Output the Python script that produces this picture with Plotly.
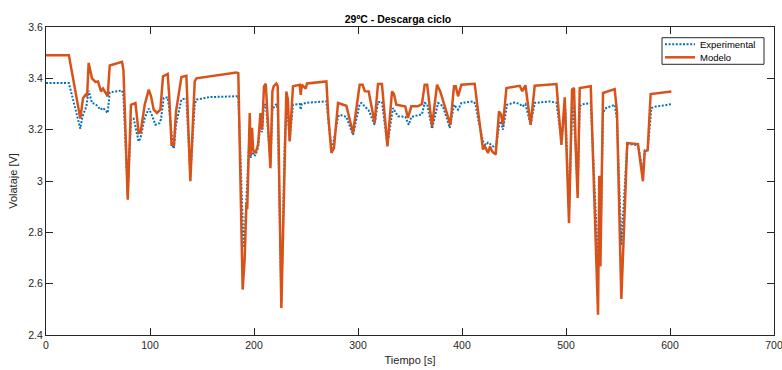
import plotly.graph_objects as go

# Modelo: simulated terminal voltage over the discharge cycle
t_modelo = [
    0, 22, 33, 35.6, 37.9, 39.5, 41, 44.2, 47.5, 50, 52.9, 54.8, 57, 59.3, 61.3, 73.1,
    74.5, 78.6, 81.7, 86, 89.1, 91, 94.9, 98.8, 101, 103.6, 106.7, 110, 112.5, 117,
    118.5, 120.7, 123, 125, 130.2, 135, 138.8, 143, 144.6, 183,
    184.9, 189.1, 191, 192.7, 193.5, 194.9, 195.9, 196.8, 198.1, 199.2, 201.3, 203.9,
    206.2, 207.8, 209.6, 211.3, 212.5, 215.8, 217.7, 219, 221.5, 222.8, 226.3, 229.5,
    231.1, 232.5, 234.3, 237.5, 244, 244.9, 246,
    249.7, 251, 269.6, 271.5, 274.4, 276.9, 280.8, 284, 288.8, 295.2,
    301.6, 304.5, 306.5, 310.3, 316, 319.2, 323, 328.3, 332.7, 334.5, 336.9, 342,
    345.5, 348, 351.3, 357.5, 361.5, 364.1, 366.5, 371.2, 376, 379, 381.7, 385, 388.8,
    392.3, 394, 396.2, 399.4, 412.2, 415.5, 420.2, 421.5, 423, 425, 427, 429, 432.4,
    435.6, 437.5, 439.4, 442.7, 455.5, 458, 461, 466, 469.9, 490.8, 495.6, 498.8,
    502.9, 505.8, 507.7, 509.5, 511.2, 513.2, 523.8, 530.8, 532.0, 533.1, 535.6,
    546.8, 549, 553.2, 554.8, 557, 558.9, 569.2, 574, 575.7, 578.5, 581.4, 601.3,
]
v_modelo = [
    3.49, 3.49, 3.243, 3.323, 3.336, 3.33, 3.46, 3.40, 3.386, 3.388, 3.349, 3.36, 3.345,
    3.33, 3.45, 3.464,
    3.43, 2.927, 3.297, 3.304, 3.187, 3.19, 3.297, 3.356, 3.33, 3.278, 3.265, 3.278,
    3.408, 3.417,
    3.33, 3.141, 3.141, 3.27, 3.405, 3.41, 2.999, 3.388, 3.40, 3.423,
    3.42, 2.577, 2.694, 2.914, 2.89, 3.13, 3.265, 3.10, 3.207, 3.12, 3.109, 3.141,
    3.265, 3.20, 3.369, 3.379, 3.30, 3.05, 3.349, 3.37, 3.38, 3.37, 2.505, 3.135,
    3.349, 3.32, 3.154, 3.369, 3.375, 3.336, 3.375,
    3.36, 3.38, 3.388, 3.25, 3.109, 3.129, 3.304, 3.30, 3.293, 3.187,
    3.375, 3.375, 3.35, 3.349, 3.226, 3.378, 3.378, 3.135, 3.349, 3.34, 3.297, 3.293,
    3.29, 3.246, 3.291, 3.291, 3.30, 3.375, 3.375, 3.213, 3.375, 3.35, 3.31, 3.27, 3.219,
    3.369, 3.369, 3.33, 3.375, 3.379, 3.27, 3.122, 3.14, 3.125, 3.109, 3.135, 3.115, 3.103,
    3.271, 3.26, 3.219, 3.362, 3.371, 3.35, 3.373, 3.219, 3.371, 3.378, 3.141, 3.326,
    2.836, 3.356, 3.362, 3.115, 2.934, 3.362, 3.369, 2.479, 3.02, 2.667, 3.343,
    3.358, 3.27, 2.54, 2.706, 3.005, 3.148, 3.144, 2.999, 3.115, 3.12, 3.339, 3.349,
]

# Experimental: measured terminal voltage
t_exp = [
    0, 22, 33, 35, 38.8, 41, 44.2, 47.5, 50, 52.3, 54.8, 57, 59.3, 61.3, 73.1, 74.5,
    78.6, 81.7, 84.3, 89.1, 91, 94.9, 98.8, 101, 105.2, 109, 110.5, 113.2, 117, 118.5,
    122.1, 123, 125, 130.2, 135, 138.8, 143, 144.6, 157.4, 183,
    184.9, 189.5, 190.7, 192.7, 194.9, 195.9, 196.8, 198.1, 199.2, 201.3, 203.9,
    206.2, 207.8, 209.6, 211.3, 212.5, 215.8, 217.7, 221.5, 222.8, 226.3, 229.5,
    231.1, 232.5, 234.3, 237.5, 244, 244.9, 246,
    251, 269.6, 271.5, 274.4, 276, 280.8, 282.4, 288.8, 295.2, 301.6,
    303.3, 306.5, 310.3, 316, 319.2, 323, 328.3, 333.6, 336.9, 338.5, 345.5, 348.8,
    351.3, 357.5, 361.5, 364.1, 366.5, 371.2, 377, 379, 381.7, 385, 388.2, 392.3, 394,
    396.2, 399.4, 410.6, 413, 415.5, 420.2, 423, 425, 428, 432.4, 436.3, 437.5, 439.4,
    443.3, 450.7, 455.5, 458, 461, 466, 469.9, 484.3, 490.8, 495.6, 499.4, 502.9,
    505.8, 506.7, 509.5, 511.2, 513.2, 515, 523.8, 530.8, 533.1, 535.6, 537.2, 546.8,
    549, 553.2, 554.8, 557, 558.9, 569.2, 574, 575.7, 578.5, 582.1, 586, 598, 601.3,
]
v_exp = [
    3.382, 3.382, 3.204, 3.25, 3.291, 3.352, 3.304, 3.30, 3.29, 3.278, 3.285, 3.275,
    3.265, 3.345, 3.353, 3.33,
    2.95, 3.24, 3.243, 3.154, 3.17, 3.245, 3.282, 3.265, 3.219, 3.225, 3.24, 3.323,
    3.326, 3.28,
    3.129, 3.128, 3.22, 3.317, 3.323, 3.02, 3.30, 3.317, 3.327, 3.33,
    3.33, 2.80, 2.74, 2.927, 3.10, 3.20, 3.09, 3.16, 3.10, 3.10, 3.13,
    3.22, 3.19, 3.297, 3.297, 3.25, 3.07, 3.28, 3.30, 3.28, 2.53, 3.14,
    3.28, 3.26, 3.16, 3.297, 3.30, 3.278, 3.30,
    3.305, 3.31, 3.23, 3.13, 3.141, 3.25, 3.258, 3.25, 3.18, 3.30,
    3.304, 3.29, 3.275, 3.219, 3.308, 3.308, 3.141, 3.284, 3.26, 3.252, 3.25, 3.219,
    3.25, 3.255, 3.26, 3.304, 3.30, 3.204, 3.304, 3.30, 3.29, 3.25, 3.207, 3.297, 3.29,
    3.278, 3.304, 3.31, 3.30, 3.24, 3.154, 3.14, 3.15, 3.14, 3.128, 3.232, 3.23, 3.20,
    3.297, 3.306, 3.30, 3.29, 3.30, 3.219, 3.304, 3.31, 3.305, 3.16, 3.278, 2.88,
    3.28, 3.297, 3.12, 2.96, 3.29, 3.298, 3.304, 2.68, 2.72, 3.26, 3.282, 3.297,
    3.24, 2.75, 2.85, 3.02, 3.144, 3.14, 3.037, 3.12, 3.12, 3.284, 3.29, 3.297, 3.30,
]

assert len(t_modelo) == len(v_modelo)
assert len(t_exp) == len(v_exp)

x_ticks = [0, 100, 200, 300, 400, 500, 600, 700]
y_ticks = [2.4, 2.6, 2.8, 3.0, 3.2, 3.4, 3.6]
y_ticklabels = ["2.4", "2.6", "2.8", "3", "3.2", "3.4", "3.6"]

BLUE = "#0072BD"
ORANGE = "#D95319"
AXIS = "#262626"
FONT = "Liberation Sans, Arial, Helvetica, sans-serif"
DOT = "2px,1.6px"

fig = go.Figure()
fig.add_trace(go.Scatter(
    x=t_exp, y=v_exp, mode="lines", name="Experimental",
    line=dict(color=BLUE, width=2, dash=DOT), showlegend=False,
))
fig.add_trace(go.Scatter(
    x=t_modelo, y=v_modelo, mode="lines", name="Modelo",
    line=dict(color=ORANGE, width=2.5), showlegend=False,
))

axis_common = dict(
    showgrid=False, zeroline=False, showline=True, linecolor=AXIS, linewidth=1,
    mirror="ticks", ticks="inside", ticklen=7, tickwidth=1, tickcolor=AXIS,
    tickfont=dict(family=FONT, size=10.5, color=AXIS), ticklabeloverflow="allow",
    automargin=False,
)

fig.update_layout(
    width=782, height=370,
    margin=dict(l=46, r=8, t=27, b=35, autoexpand=False),
    paper_bgcolor="white", plot_bgcolor="white",
    font=dict(family=FONT, color=AXIS),
    title=dict(
        text="<b>29ºC - Descarga ciclo</b>", font=dict(family=FONT, size=10.5, color="black"),
        xref="paper", x=0.4835, xanchor="center", yref="container", y=1 - 19 / 370,
        yanchor="middle",
    ),
    xaxis=dict(
        range=[0, 700], tickvals=x_ticks, ticktext=[str(v) for v in x_ticks],
        title=dict(text="Tiempo [s]", font=dict(family=FONT, size=11, color=AXIS), standoff=6),
        **axis_common,
    ),
    yaxis=dict(
        range=[2.4, 3.6], tickvals=y_ticks, ticktext=y_ticklabels,
        title=dict(text="Volataje [V]", font=dict(family=FONT, size=11, color=AXIS), standoff=8),
        **axis_common,
    ),
    showlegend=False,
)

# Legend box drawn in paper coordinates at the upper-right corner of the axes
lx0, lx1 = (662 - 46) / 728, (764 - 46) / 728
ly0, ly1 = (335 - 64.3) / 308, (335 - 37.7) / 308
fig.add_shape(type="rect", xref="paper", yref="paper", x0=lx0, x1=lx1, y0=ly0, y1=ly1,
              line=dict(color=AXIS, width=1), fillcolor="white", layer="above")
entries = [("Experimental", BLUE, DOT, 2, 44.3), ("Modelo", ORANGE, "solid", 2.5, 57.3)]
for label, color, dash, width, ypx in entries:
    yy = (335 - ypx) / 308
    fig.add_shape(type="line", xref="paper", yref="paper",
                  x0=(665 - 46) / 728, x1=(695 - 46) / 728, y0=yy, y1=yy,
                  line=dict(color=color, width=width, dash=dash), layer="above")
    fig.add_annotation(text=label, xref="paper", yref="paper", x=(698 - 46) / 728, y=yy,
                       xanchor="left", yanchor="middle", showarrow=False,
                       font=dict(family=FONT, size=9.5, color="black"))

fig.write_html("out.html")
